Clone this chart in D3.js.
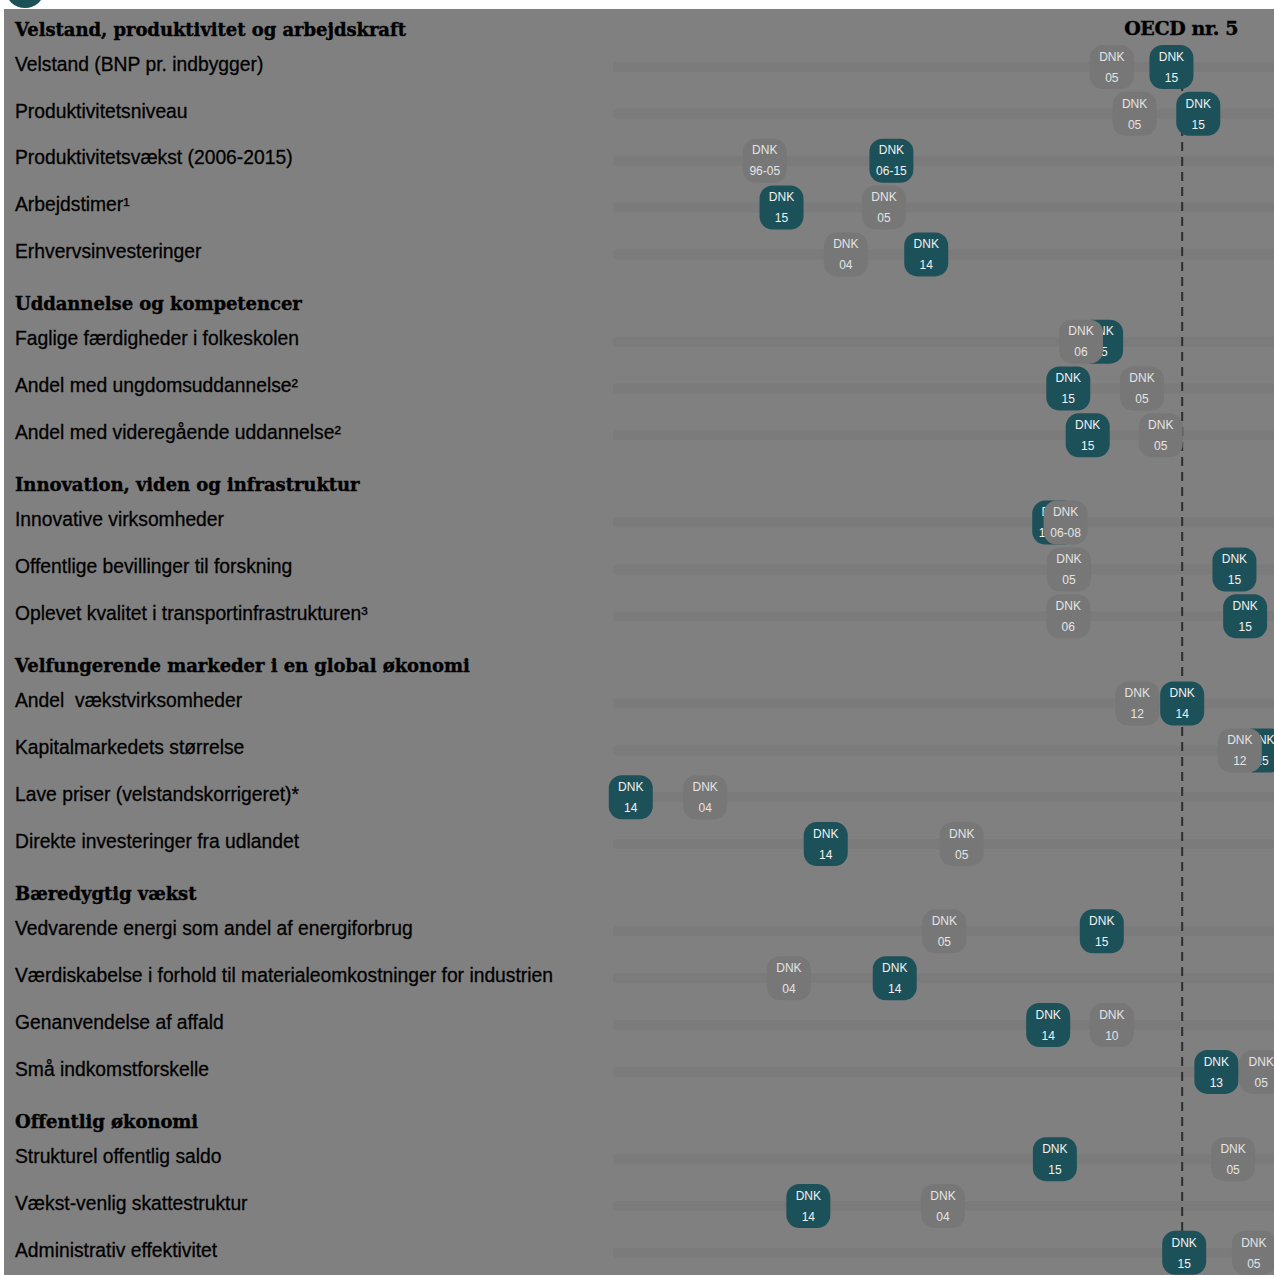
<!DOCTYPE html>
<html><head><meta charset="utf-8">
<script src="https://cdn.jsdelivr.net/npm/d3@7"></script>
<style>
html,body{margin:0;padding:0;background:#fff;}
svg{display:block;}
</style></head>
<body>
<script>
// ---- data ----
const sections = [
  "Velstand, produktivitet og arbejdskraft",
  "Uddannelse og kompetencer",
  "Innovation, viden og infrastruktur",
  "Velfungerende markeder i en global økonomi",
  "Bæredygtig vækst",
  "Offentlig økonomi"
];
const indicators = [
  "Velstand (BNP pr. indbygger)",
  "Produktivitetsniveau",
  "Produktivitetsvækst (2006-2015)",
  "Arbejdstimer¹",
  "Erhvervsinvesteringer",
  "Faglige færdigheder i folkeskolen",
  "Andel med ungdomsuddannelse²",
  "Andel med videregående uddannelse²",
  "Innovative virksomheder",
  "Offentlige bevillinger til forskning",
  "Oplevet kvalitet i transportinfrastrukturen³",
  "Andel  vækstvirksomheder",
  "Kapitalmarkedets størrelse",
  "Lave priser (velstandskorrigeret)*",
  "Direkte investeringer fra udlandet",
  "Vedvarende energi som andel af energiforbrug",
  "Værdiskabelse i forhold til materialeomkostninger for industrien",
  "Genanvendelse af affald",
  "Små indkomstforskelle",
  "Strukturel offentlig saldo",
  "Vækst-venlig skattestruktur",
  "Administrativ effektivitet"
];
const sectionOf = [0,0,0,0,0,1,1,1,2,2,2,3,3,3,3,4,4,4,4,5,5,5];
// position score (0-100 scale) of the earlier observation (grey) and latest (teal)
const earlierValue = [74.9,78.3,23.1,40.9,35.2,70.3,79.4,82.2,68.0,68.5,68.4,78.7,94.0,14.2,52.5,49.9,26.7,74.9,97.2,93.0,49.7,96.1];
const latestValue  = [83.8,87.8,42.0,25.6,47.2,73.3,68.4,71.3,66.3,93.2,94.8,85.4,97.3,3.1,32.2,73.4,42.5,65.4,90.5,66.4,29.6,85.7];
const earlierYear = ["05","05","96-05","05","04","06","05","05","06-08","05","06","12","12","04","05","05","04","10","05","05","04","05"];
const latestYear  = ["15","15","06-15","15","14","15","15","15","12-14","15","15","14","15","14","14","15","14","14","13","15","14","15"];
const countryCode = "DNK";
const benchmarkLabel = "OECD nr. 5";
const benchmarkValue = 85.4;

// ---- layout ----
const W = 1274, H = 1275;
const svg = d3.select("body").append("svg").attr("width", W).attr("height", H);

const x = d3.scaleLinear().domain([0, 100]).range([610, 1280]);
const rowStep = 46.85, sectionGap = 40.4, firstRow = 67;
const rowY = indicators.map((d, i) => firstRow + i * rowStep + sectionOf[i] * sectionGap);

const TEAL = "#1d5159", BG = "#808080", TRACK = "#7b7b7b", GREYB = "#777777";

svg.append("circle").attr("cx", 25).attr("cy", -12).attr("r", 20).attr("fill", TEAL);
svg.append("rect").attr("x", 4).attr("y", 9).attr("width", W - 4).attr("height", H - 9).attr("fill", BG);

// tracks
svg.append("g").selectAll("rect").data(indicators).join("rect")
  .attr("x", x(0) + 3).attr("y", (d, i) => rowY[i] - 5)
  .attr("width", x(100) + 20 - x(0)).attr("height", 10).attr("rx", 3)
  .attr("fill", TRACK);

// section headers
const firstIdx = sections.map((s, k) => sectionOf.indexOf(k));
svg.append("g").selectAll("text").data(sections).join("text")
  .attr("x", 15).attr("y", (d, k) => rowY[firstIdx[k]] - 37.5)
  .attr("dy", "0.35em")
  .attr("font-family", "'DejaVu Serif', serif").attr("font-weight", "bold")
  .attr("font-size", 18).attr("letter-spacing", -0.05)
  .attr("fill", "#000").attr("stroke", "#000").attr("stroke-width", 0.4)
  .text(d => d);

svg.append("text").attr("x", 1238).attr("y", rowY[0] - 38.5).attr("dy", "0.35em")
  .attr("text-anchor", "end")
  .attr("font-family", "'DejaVu Serif', serif").attr("font-weight", "bold")
  .attr("font-size", 19).attr("letter-spacing", -0.4)
  .attr("stroke", "#000").attr("stroke-width", 0.4)
  .text(benchmarkLabel);

// indicator labels
svg.append("g").selectAll("text").data(indicators).join("text")
  .attr("x", 15).attr("y", (d, i) => rowY[i] - 3).attr("dy", "0.35em")
  .attr("font-family", "'Liberation Sans', Arial, sans-serif")
  .attr("font-size", 19.3)
  .attr("fill", "#000").attr("stroke", "#000").attr("stroke-width", 0.3)
  .style("white-space", "pre")
  .text(d => d);

// benchmark dashed line
svg.append("line")
  .attr("x1", x(benchmarkValue)).attr("x2", x(benchmarkValue))
  .attr("y1", rowY[0]).attr("y2", rowY[rowY.length - 1])
  .attr("stroke", "#2e2e2e").attr("stroke-width", 2).attr("stroke-dasharray", "9,6");

// bubbles
const S = 44, R = 13;
function bubble(g, vals, labels, fill, txt) {
  const b = g.selectAll("g").data(indicators).join("g")
    .attr("transform", (d, i) => `translate(${x(vals[i])},${rowY[i]})`);
  b.append("rect").attr("x", -S / 2).attr("y", -S / 2).attr("width", S).attr("height", S)
    .attr("rx", R).attr("fill", fill);
  b.append("text").attr("y", -10.5).attr("dy", "0.35em").attr("text-anchor", "middle")
    .attr("font-family", "'Liberation Sans', Arial, sans-serif").attr("font-size", 12)
    .attr("fill", txt).text(countryCode);
  b.append("text").attr("y", 10.5).attr("dy", "0.35em").attr("text-anchor", "middle")
    .attr("font-family", "'Liberation Sans', Arial, sans-serif").attr("font-size", 12)
    .attr("fill", txt).text((d, i) => labels[i]);
}
bubble(svg.append("g"), latestValue, latestYear, TEAL, "#f2f2f2");
bubble(svg.append("g"), earlierValue, earlierYear, GREYB, "#e4e4e4");
</script>
</body></html>
